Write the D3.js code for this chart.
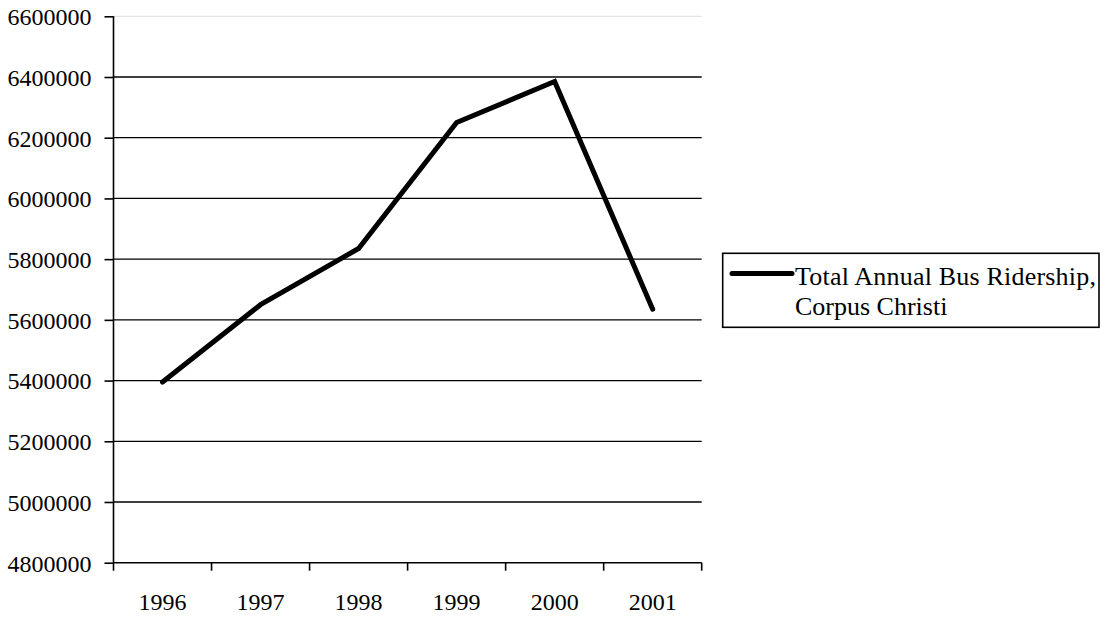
<!DOCTYPE html>
<html>
<head>
<meta charset="utf-8">
<script src="https://cdn.jsdelivr.net/npm/d3@7"></script>
<style>
  html, body { margin: 0; padding: 0; background: #fff; }
  svg { display: block; }
</style>
</head>
<body>
<div id="chart"></div>
<script>
// Annual bus ridership, Corpus Christi
const years = ["1996", "1997", "1998", "1999", "2000", "2001"];
const ridership = [5395000, 5650000, 5835000, 6250000, 6385000, 5635000];
const yTicks = [4800000, 5000000, 5200000, 5400000, 5600000, 5800000, 6000000, 6200000, 6400000, 6600000];
const seriesName = ["Total Annual Bus Ridership,", "Corpus Christi"];

const FONT = "'Liberation Serif', 'Times New Roman', Times, serif";
const W = 1110, H = 620;
const plot = { left: 113.5, right: 701.7, top: 16.3, bottom: 562.7 };

const svg = d3.select("#chart").append("svg")
  .attr("width", W).attr("height", H)
  .attr("font-family", FONT);

const x = d3.scaleBand().domain(years).range([plot.left, plot.right]).padding(0);
const y = d3.scaleLinear().domain([4800000, 6600000]).range([plot.bottom, plot.top]);

// horizontal gridlines (top one drawn light)
svg.append("g").selectAll("line").data(yTicks.slice(1)).join("line")
  .attr("x1", plot.left).attr("x2", plot.right)
  .attr("y1", d => y(d)).attr("y2", d => y(d))
  .attr("stroke", d => d === 6600000 ? "#e4e4e4" : "#000")
  .attr("stroke-width", 1.3);

// y axis
const yAxis = svg.append("g")
  .attr("transform", `translate(${plot.left},0)`)
  .call(d3.axisLeft(y).tickValues(yTicks).tickFormat(d3.format("d")).tickSize(9).tickPadding(13));
yAxis.attr("font-family", FONT).attr("font-size", 24);
yAxis.select(".domain").attr("stroke", "#000").attr("stroke-width", 1.6)
  .attr("d", `M0,${plot.top}V${plot.bottom}`);
yAxis.selectAll(".tick line").attr("stroke", "#000").attr("stroke-width", 1.6);
yAxis.selectAll(".tick text").attr("fill", "#000").attr("dy", "0.35em");

// x axis: line plus ticks at category boundaries
const bounds = years.map(d => x(d)).concat([x.range()[1]]);
const xg = svg.append("g").attr("font-family", FONT).attr("font-size", 24);
xg.append("line")
  .attr("x1", plot.left).attr("x2", plot.right)
  .attr("y1", plot.bottom).attr("y2", plot.bottom)
  .attr("stroke", "#000").attr("stroke-width", 1.6);
xg.selectAll("line.tk").data(bounds).join("line").attr("class", "tk")
  .attr("x1", d => d).attr("x2", d => d)
  .attr("y1", plot.bottom).attr("y2", plot.bottom + 8)
  .attr("stroke", "#000").attr("stroke-width", 1.6);
xg.selectAll("text").data(years).join("text")
  .attr("x", d => x(d) + x.bandwidth() / 2)
  .attr("y", 610)
  .attr("text-anchor", "middle")
  .attr("fill", "#000")
  .text(d => d);

// data line
const line = d3.line()
  .x((d, i) => x(years[i]) + x.bandwidth() / 2)
  .y(d => y(d));
svg.append("path")
  .datum(ridership)
  .attr("d", line)
  .attr("fill", "none")
  .attr("stroke", "#000")
  .attr("stroke-width", 5)
  .attr("stroke-linecap", "round")
  .attr("stroke-linejoin", "miter");

// legend
const lg = svg.append("g").attr("font-family", FONT).attr("font-size", 26);
lg.append("rect")
  .attr("x", 722.7).attr("y", 253.3)
  .attr("width", 376.3).attr("height", 74)
  .attr("fill", "#fff").attr("stroke", "#000").attr("stroke-width", 1.6);
lg.append("line")
  .attr("x1", 732).attr("x2", 792)
  .attr("y1", 273.5).attr("y2", 273.5)
  .attr("stroke", "#000").attr("stroke-width", 5).attr("stroke-linecap", "round");
lg.selectAll("text").data(seriesName).join("text")
  .attr("x", 795)
  .attr("y", (d, i) => 285 + i * 30)
  .attr("fill", "#000")
  .attr("letter-spacing", (d, i) => i === 0 ? 0.2 : 0)
  .text(d => d);
</script>
</body>
</html>
